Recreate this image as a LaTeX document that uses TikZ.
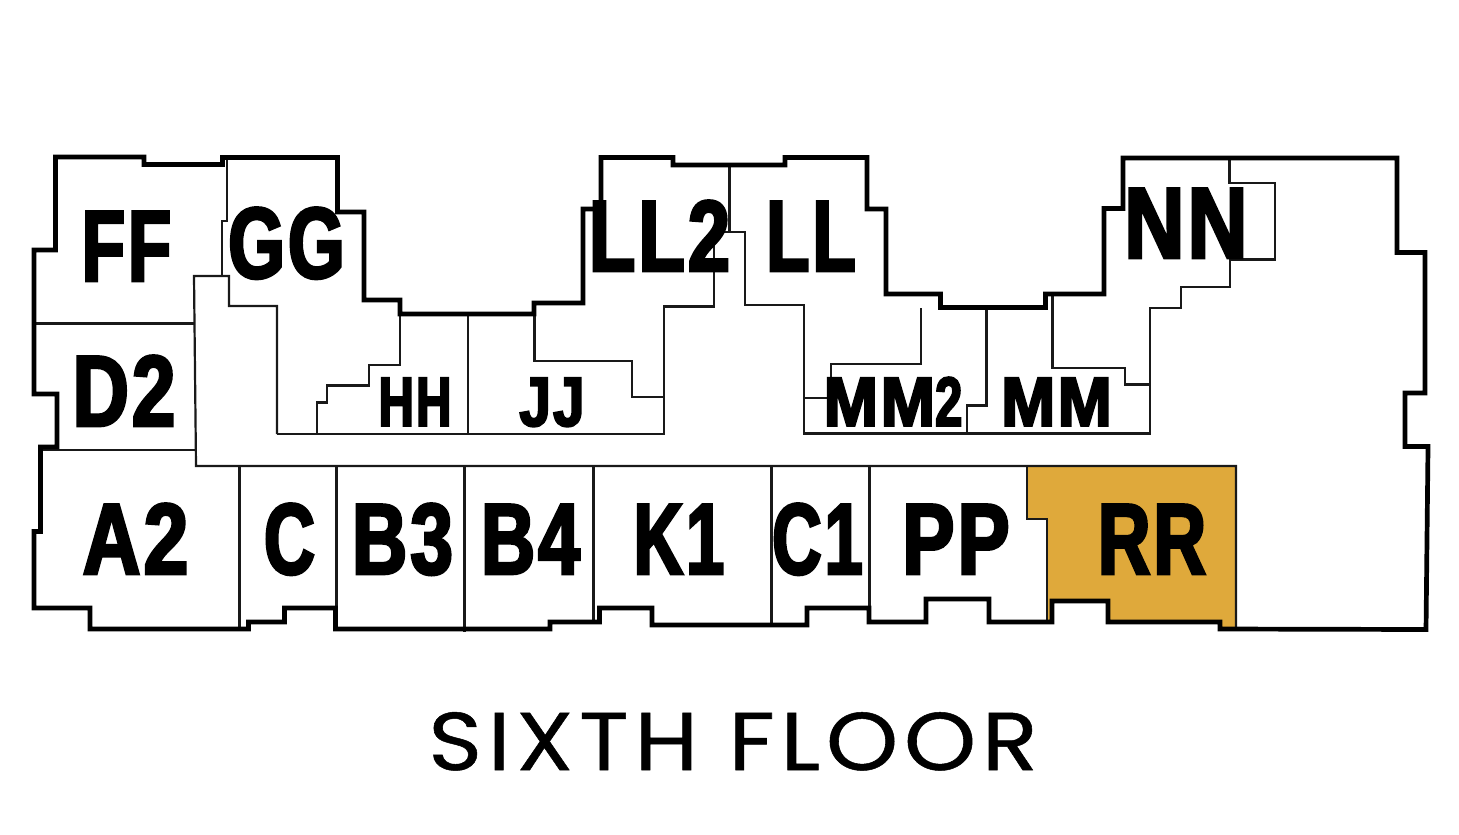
\documentclass[tikz,border=0pt]{standalone}
\usepackage{fontspec}
\newfontfamily\unitfont[FakeStretch=0.7,FakeBold=2.7,LetterSpace=3]{Liberation Sans Bold}
\newfontfamily\titlefont[LetterSpace=6.3,FakeBold=0.6]{Poppins}
\definecolor{soldgold}{HTML}{DFA93B}
\tikzset{
	wall/.style={draw=black, line width=2.35pt},
	partition/.style={draw=black!90, line width=1.1pt},
	bigunit/.style={anchor=base, inner sep=0pt, font=\unitfont\fontsize{50.5}{50.5}\selectfont},
	smallunit/.style={anchor=base, inner sep=0pt, font=\unitfont\fontsize{35}{35}\selectfont},
	floorname/.style={anchor=base, inner sep=0pt, font=\titlefont\fontsize{41}{41}\selectfont}
}
\newcommand{\wider}[2]{\scalebox{#1}[1]{#2}}
\begin{document}
\begin{tikzpicture}[x=0.5pt, y=-0.5pt]
	\useasboundingbox (0,0) rectangle (1459,834);

	% highlighted unit
	\fill[soldgold] (1027,466) -- (1236,466) -- (1236,629) -- (1220,629) -- (1220,622) -- (1108,622)
		-- (1108,601) -- (1052,601) -- (1052,622) -- (1047,622) -- (1047,519) -- (1027,519) -- cycle;

	% corridor
	\draw[partition] (277,434) -- (277,306) -- (229,306) -- (229,276) -- (194,276) -- (196,466) -- (1236,466) -- (1236,629);
	\draw[partition] (277,434) -- (664,434) -- (664,306.5) -- (714,306.5) -- (714,232) -- (745,232) -- (745,305) -- (804,305) -- (804,433.5) -- (1150,433.5)
		-- (1150,308) -- (1181,308) -- (1181,287) -- (1230,287) -- (1230,259.5) -- (1275,259.5) -- (1275,183) -- (1229.5,183) -- (1229.5,158);

	% upper units
	\draw[partition] (34,323.5) -- (194,323.5);
	\draw[partition] (41,450) -- (195.5,450);
	\draw[partition] (227,160) -- (227,221) -- (222,221) -- (222,276);
	\draw[partition] (400,300) -- (400,365) -- (369,365) -- (369,385.5) -- (327,385.5) -- (327,402.5) -- (317,402.5) -- (317,434);
	\draw[partition] (468,314) -- (468,434);
	\draw[partition] (534.5,314) -- (534.5,361) -- (632,361) -- (632,397) -- (664,397);
	\draw[partition] (729.5,166) -- (729.5,232);
	\draw[partition] (921,308) -- (921,364) -- (831,364) -- (831,398);
	\draw[partition] (804,398) -- (831,398);
	\draw[partition] (986.5,308) -- (986.5,405.5) -- (967,405.5) -- (967,433.5);
	\draw[partition] (1052.5,296) -- (1052.5,368) -- (1125,368) -- (1125,384.5) -- (1150,384.5);

	% lower units
	\foreach \wallx/\wallend in {239.5/627, 336.5/608, 464.5/632, 593.5/620, 771.5/625, 869.5/610} {
		\draw[partition] (\wallx,466) -- (\wallx,\wallend);
	}
	\draw[partition] (1027,466) -- (1027,519) -- (1047,519) -- (1047,622);

	% outer wall
	\draw[wall] (55.5,157) -- (144,157) -- (144,164.5) -- (222.5,164.5) -- (222.5,157.5) -- (337.5,157.5) -- (337.5,212)
		-- (364,212) -- (364,300) -- (400,300) -- (400,314) -- (534,314) -- (534,303) -- (583,303) -- (583,209) -- (601,209)
		-- (601,157.5) -- (673,157.5) -- (673,165) -- (785,165) -- (785,157.5) -- (867,157.5) -- (867,209) -- (886,209)
		-- (886,294) -- (940.5,294) -- (940.5,307.5) -- (1045.5,307.5) -- (1045.5,294) -- (1104,294) -- (1104,208.5)
		-- (1123,208.5) -- (1123,158) -- (1397,158) -- (1397,252.5) -- (1425,252.5) -- (1425,393) -- (1405,393) -- (1405,446.5)
		-- (1428,446.5) -- (1426,629.5) -- (1220,629) -- (1220,622) -- (1108,622) -- (1108,601) -- (1052,601) -- (1052,622)
		-- (989,622) -- (989,599) -- (926,599) -- (926,622) -- (869,622) -- (869,608) -- (807,608) -- (807,625) -- (652,625)
		-- (652,608) -- (599.5,608) -- (599.5,622) -- (550,622) -- (550,629) -- (335.5,629) -- (335.5,608) -- (284.5,608)
		-- (284.5,622) -- (248.5,622) -- (248.5,629) -- (90,629) -- (90,608) -- (34,608) -- (34,531.5) -- (40.5,531.5)
		-- (40.5,447) -- (57,447) -- (57,394) -- (34,394) -- (34,250) -- (55.5,250) -- cycle;

	% unit names
	\node[bigunit] (ff) at (126.5,281) {FF};
	\node[bigunit] (gg) at (286.5,278) {\wider{1.03}{GG}};
	\node[bigunit] (ll2) at (659.5,271) {\wider{1.07}{LL2}};
	\node[bigunit] (ll) at (811,271) {LL};
	\node[bigunit] (nn) at (1186,258) {\wider{1.17}{NN}};
	\node[bigunit] (d2) at (124,426) {\wider{1.1}{D2}};
	\node[smallunit] (hh) at (415,426) {HH};
	\node[smallunit] (jj) at (552,426) {\wider{1.15}{JJ}};
	\node[smallunit] (mm2) at (893,426) {\wider{1.33}{MM}2};
	\node[smallunit] (mm) at (1056.5,426) {\wider{1.32}{MM}};
	\node[bigunit] (a2) at (135.5,574) {\wider{1.13}{A2}};
	\node[bigunit] (c) at (289.5,574) {C};
	\node[bigunit] (b3) at (402.5,574) {\wider{1.08}{B3}};
	\node[bigunit] (b4) at (530.5,574) {\wider{1.06}{B4}};
	\node[bigunit] (k1) at (679,574) {\wider{.97}{K1}};
	\node[bigunit] (c1) at (817.5,574) {\wider{.97}{C1}};
	\node[bigunit] (pp) at (956,574) {\wider{1.1}{PP}};
	\node[bigunit] (rr) at (1152,574) {\wider{1.03}{RR}};

	\node[floorname] (sixth) at (733,770) {\wider{1.12}{SIXTH FLOOR}};
\end{tikzpicture}
\end{document}
